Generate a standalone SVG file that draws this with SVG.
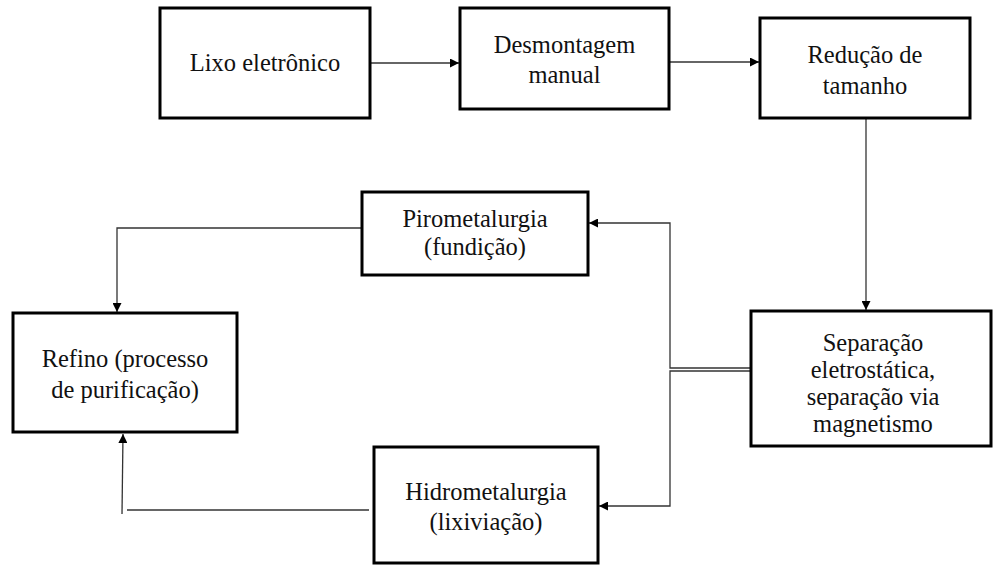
<svg xmlns="http://www.w3.org/2000/svg" width="993" height="565" viewBox="0 0 993 565">
  <style>
    .box { fill: #ffffff; stroke: #000000; stroke-width: 3; }
    .lbl { font-family: 'Liberation Serif', 'Times New Roman', serif; font-size: 24.5px; fill: #111111; text-anchor: middle; }
    .wire { fill: none; stroke: #333333; stroke-width: 1.3; }
  </style>
  <defs>
    <marker id="head" viewBox="0 0 10 10" refX="10" refY="5" markerWidth="9" markerHeight="9" markerUnits="userSpaceOnUse" orient="auto">
      <path d="M0,0 L10,5 L0,10 Z" fill="#000000"/>
    </marker>
  </defs>

  <rect width="993" height="565" fill="#ffffff"/>

  <g id="connectors">
    <path class="wire" d="M370,63 H459" marker-end="url(#head)"/>
    <path class="wire" d="M669,62 H759" marker-end="url(#head)"/>
    <path class="wire" d="M866,118 V310" marker-end="url(#head)"/>
    <!-- double lead out of the separation box -->
    <path class="wire" d="M751,368 H670 V223 H589" marker-end="url(#head)"/>
    <path class="wire" d="M751,371 H670 V506 H599" marker-end="url(#head)"/>
    <path class="wire" d="M362,228 H117 V312" marker-end="url(#head)"/>
    <path class="wire" d="M369,510 H127"/>
    <path class="wire" d="M122,514 L123,434" marker-end="url(#head)"/>
  </g>

  <g id="lixo">
    <rect class="box" x="160" y="8" width="210" height="110"/>
    <text class="lbl" x="265" y="71">Lixo eletrônico</text>
  </g>

  <g id="desmontagem">
    <rect class="box" x="460" y="8" width="209" height="101"/>
    <text class="lbl" x="564.5" y="53">Desmontagem</text>
    <text class="lbl" x="564.5" y="83">manual</text>
  </g>

  <g id="reducao">
    <rect class="box" x="760" y="18" width="210" height="100"/>
    <text class="lbl" x="865" y="63">Redução de</text>
    <text class="lbl" x="865" y="94">tamanho</text>
  </g>

  <g id="pirometalurgia">
    <rect class="box" x="362" y="192" width="226" height="83"/>
    <text class="lbl" x="475" y="227">Pirometalurgia</text>
    <text class="lbl" x="475" y="255">(fundição)</text>
  </g>

  <g id="refino">
    <rect class="box" x="13" y="313" width="224" height="119"/>
    <text class="lbl" x="125" y="367">Refino (processo</text>
    <text class="lbl" x="125" y="398">de purificação)</text>
  </g>

  <g id="separacao">
    <rect class="box" x="751" y="311" width="240" height="135"/>
    <text class="lbl" x="873" y="351">Separação</text>
    <text class="lbl" x="873" y="378">eletrostática,</text>
    <text class="lbl" x="873" y="405">separação via</text>
    <text class="lbl" x="873" y="432">magnetismo</text>
  </g>

  <g id="hidrometalurgia">
    <rect class="box" x="374" y="447" width="224" height="116"/>
    <text class="lbl" x="486" y="500">Hidrometalurgia</text>
    <text class="lbl" x="486" y="530">(lixiviação)</text>
  </g>
</svg>
